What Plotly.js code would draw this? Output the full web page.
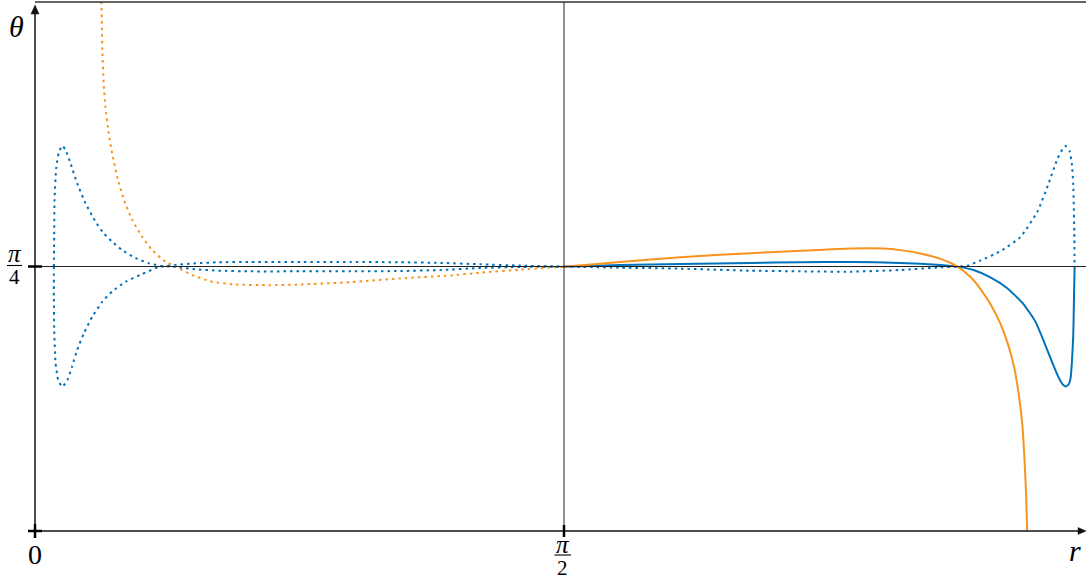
<!DOCTYPE html>
<html>
<head>
<meta charset="utf-8">
<script src="https://cdn.plot.ly/plotly-3.0.1.min.js"></script>
<style>html,body{margin:0;padding:0;background:#fff}#chart{width:1086px;height:584px}</style>
</head>
<body>
<div id="chart"></div>
<script>
// ---- data (r, theta) ----
// right half, blue solid (dips below pi/4 near r = pi)
const rBlueSolid  = [1.571,1.738,1.917,2.124,2.273,2.421,2.570,2.689,2.739,2.787,2.837,2.887,2.935,2.971,3.000,3.021,3.039,3.051,3.060,3.069,3.075,3.079,3.083,3.085,3.087];
const thBlueSolid = [0.785,0.790,0.793,0.796,0.798,0.799,0.796,0.790,0.785,0.775,0.753,0.721,0.674,0.621,0.552,0.499,0.457,0.436,0.429,0.435,0.454,0.502,0.582,0.686,0.785];
// right half, blue dotted (peaks above pi/4 near r = pi)
const rBlueDotR  = [1.571,1.738,1.917,2.124,2.273,2.421,2.570,2.689,2.739,2.769,2.807,2.867,2.926,2.977,3.009,3.036,3.051,3.060,3.072,3.079,3.083,3.086,3.087];
const thBlueDotR = [0.785,0.782,0.779,0.773,0.771,0.770,0.775,0.783,0.785,0.788,0.803,0.831,0.873,0.949,1.030,1.105,1.134,1.143,1.128,1.087,1.027,0.888,0.785];
// left half, blue dotted with peak
const rBlueDotPeak  = [0.056,0.057,0.058,0.063,0.071,0.081,0.091,0.105,0.125,0.150,0.180,0.204,0.229,0.259,0.298,0.338,0.378,0.417,0.477,0.545,0.640,0.788,0.937,1.085,1.204,1.323,1.442,1.571];
const thBlueDotPeak = [0.785,0.876,0.983,1.078,1.125,1.144,1.131,1.093,1.033,0.973,0.918,0.884,0.859,0.834,0.811,0.795,0.787,0.784,0.777,0.773,0.771,0.771,0.771,0.772,0.775,0.781,0.784,0.785];
// left half, blue dotted with trough
const rBlueDotTrough  = [0.056,0.056,0.057,0.061,0.069,0.081,0.096,0.110,0.125,0.145,0.170,0.200,0.229,0.269,0.318,0.368,0.417,0.477,0.545,0.640,0.788,0.937,1.085,1.204,1.323,1.442,1.571];
const thBlueDotTrough = [0.785,0.695,0.597,0.499,0.448,0.428,0.448,0.488,0.537,0.587,0.636,0.681,0.711,0.740,0.763,0.784,0.790,0.795,0.798,0.799,0.799,0.799,0.798,0.796,0.792,0.788,0.785];
// right half, orange solid (falls to 0)
const rOrangeSolid  = [1.571,1.738,1.917,2.124,2.273,2.421,2.519,2.570,2.629,2.689,2.739,2.778,2.807,2.837,2.867,2.890,2.908,2.920,2.931,2.938,2.943,2.946];
const thOrangeSolid = [0.785,0.799,0.813,0.825,0.832,0.839,0.839,0.834,0.824,0.808,0.785,0.754,0.719,0.674,0.615,0.552,0.484,0.413,0.324,0.217,0.107,0.000];
// left half, orange dotted (rises past the top)
const rOrangeDot  = [0.195,0.197,0.200,0.204,0.209,0.219,0.229,0.244,0.264,0.289,0.318,0.348,0.387,0.417,0.467,0.526,0.595,0.694,0.788,0.937,1.085,1.234,1.323,1.442,1.571];
const thOrangeDot = [1.591,1.574,1.428,1.329,1.260,1.181,1.121,1.052,0.983,0.923,0.874,0.834,0.800,0.785,0.760,0.740,0.732,0.730,0.732,0.739,0.750,0.759,0.767,0.776,0.785];

const xMax = 3.1208;
const yMax = Math.PI / 2;
const QUARTER = Math.PI / 4;
const HALF = Math.PI / 2;
const pxHalf = HALF / xMax;      // paper x of r = pi/2
const pyQuarter = QUARTER / yMax; // paper y of theta = pi/4

const BLUE = '#0072bd';
const ORANGE = '#f7931e';
const DOT = '2.5px,4px';
const SERIF = 'Liberation Serif, DejaVu Serif, serif';

function tr(x, y, color, dash) {
  return {x: x, y: y, type: 'scatter', mode: 'lines', hoverinfo: 'skip',
    line: {color: color, width: 2, dash: dash, shape: 'spline', smoothing: 0.5}};
}

const traces = [
  tr(rBlueSolid, thBlueSolid, BLUE, 'solid'),
  tr(rBlueDotR, thBlueDotR, BLUE, DOT),
  tr(rBlueDotPeak, thBlueDotPeak, BLUE, DOT),
  tr(rBlueDotTrough, thBlueDotTrough, BLUE, DOT),
  tr(rOrangeSolid, thOrangeSolid, ORANGE, 'solid'),
  tr(rOrangeDot, thOrangeDot, ORANGE, DOT)
];

function pline(opts, color, width) {
  return Object.assign({type:'line', xref:'paper', yref:'paper', line:{color:color, width:width}}, opts);
}

const shapes = [
  // reference lines
  pline({x0:0, x1:1, y0:pyQuarter, y1:pyQuarter}, '#222', 1),
  pline({x0:pxHalf, x1:pxHalf, y0:0, y1:1}, '#222', 1),
  // top border
  pline({x0:0, x1:1, y0:1, y1:1}, '#333', 1.5),
  // axes
  pline({x0:0, x1:0.994, y0:0, y1:0}, '#111', 1.5),
  pline({x0:0, x1:0, y0:0, y1:0.99}, '#111', 1.5),
  // arrow heads
  {type:'path', xref:'paper', xsizemode:'pixel', xanchor:0, yref:'paper', ysizemode:'pixel', yanchor:1,
   path:'M -4 -12 L 0 -3 L 4 -12 Z', fillcolor:'#111', line:{color:'#111', width:0.5}},
  {type:'path', xref:'paper', xsizemode:'pixel', xanchor:1, yref:'paper', ysizemode:'pixel', yanchor:0,
   path:'M -8 3.5 L 0 0 L -8 -3.5 Z', fillcolor:'#111', line:{color:'#111', width:0.5}},
  // tick crosses
  pline({xsizemode:'pixel', xanchor:0, x0:-7, x1:7, y0:0, y1:0}, '#000', 2.5),
  pline({x0:0, x1:0, ysizemode:'pixel', yanchor:0, y0:-7, y1:7}, '#000', 2.5),
  pline({xsizemode:'pixel', xanchor:0, x0:-7, x1:7, y0:pyQuarter, y1:pyQuarter}, '#000', 2.5),
  pline({x0:pxHalf, x1:pxHalf, ysizemode:'pixel', yanchor:0, y0:-6, y1:6}, '#000', 2.5),
  // fraction bars
  pline({xsizemode:'pixel', xanchor:0, x0:-28, x1:-13, ysizemode:'pixel', yanchor:pyQuarter, y0:1, y1:1}, '#000', 1.1),
  pline({xsizemode:'pixel', xanchor:pxHalf, x0:-9.5, x1:7, ysizemode:'pixel', yanchor:0, y0:-24, y1:-24}, '#000', 1.1)
];

function ann(text, x, y, xs, ys, size) {
  return {text: text, x: x, y: y, xref:'paper', yref:'paper', align:'center',
    xanchor:'center', yanchor:'middle', xshift: xs, yshift: ys, showarrow:false,
    font:{family: SERIF, size: size, color:'#000'}};
}
function frac(den) {
  return '<span style="font-size:25px"><i>π</i></span><br><span style="font-size:21px">' + den + '</span>';
}

const annotations = [
  ann('0', 0, 0, 0, -23, 28),
  ann(frac('2'), pxHalf, 0, -1, -24, 17),
  ann(frac('4'), 0, pyQuarter, -20, 2, 17),
  ann('<i>θ</i>', 0, 1, -19, -24, 30),
  ann('<i>r</i>', 1, 0, -11, -19, 30)
];

const layout = {
  width: 1086, height: 584,
  margin: {l: 35, r: 0, t: 2, b: 53, pad: 0},
  paper_bgcolor: '#fff', plot_bgcolor: '#fff',
  showlegend: false, hovermode: false,
  xaxis: {range: [0, xMax], visible: false, fixedrange: true},
  yaxis: {range: [0, yMax], visible: false, fixedrange: true},
  shapes: shapes,
  annotations: annotations
};

Plotly.newPlot('chart', traces, layout, {staticPlot: true, displayModeBar: false});
</script>
</body>
</html>
